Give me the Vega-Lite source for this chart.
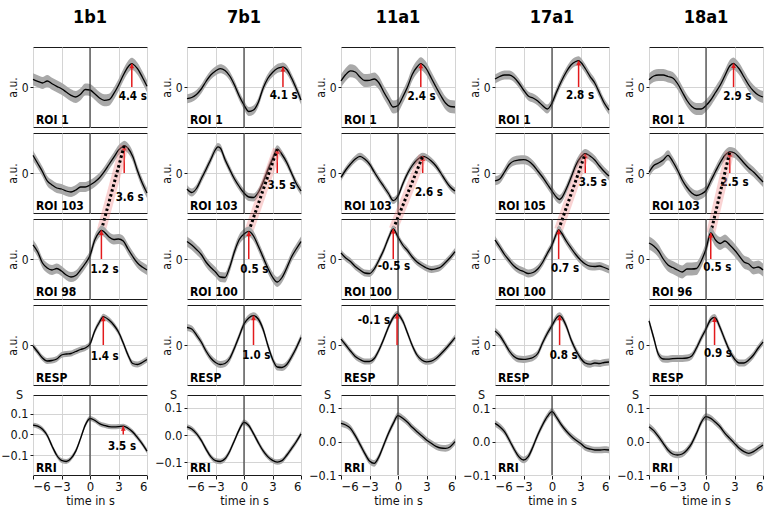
{
"$schema":"https://vega.github.io/schema/vega-lite/v6.json",
"padding":{"left":0,"top":9,"right":0,"bottom":0},
"background":"white",
"config":{"font":"DejaVu Sans Condensed, Liberation Sans Narrow, DejaVu Sans","view":{"stroke":"#1a1a1a","strokeWidth":1},"axis":{"gridColor":"#d4d4d4","gridWidth":1,"domain":false,"tickColor":"#1a1a1a","labelColor":"#111","titleColor":"#111","titleFontWeight":"normal","tickCount":10}},
"datasets":{
"a":[
{"k":"c","c":"1b1","r":1,"t":-6,"y":0.77,"e":0.6},{"k":"c","c":"1b1","r":1,"t":-5.5,"y":0.57,"e":0.6},{"k":"c","c":"1b1","r":1,"t":-5,"y":0.4,"e":0.6},{"k":"c","c":"1b1","r":1,"t":-4.5,"y":0.6,"e":0.6},{"k":"c","c":"1b1","r":1,"t":-4,"y":0.33,"e":0.6},{"k":"c","c":"1b1","r":1,"t":-3.5,"y":0.07,"e":0.6},{"k":"c","c":"1b1","r":1,"t":-3,"y":-0.17,"e":0.6},{"k":"c","c":"1b1","r":1,"t":-2.5,"y":-0.5,"e":0.6},{"k":"c","c":"1b1","r":1,"t":-2,"y":-0.83,"e":0.6},{"k":"c","c":"1b1","r":1,"t":-1.5,"y":-1.0,"e":0.6},{"k":"c","c":"1b1","r":1,"t":-1,"y":-0.73,"e":0.6},{"k":"c","c":"1b1","r":1,"t":-0.5,"y":-0.25,"e":0.6},{"k":"c","c":"1b1","r":1,"t":0,"y":-0.3,"e":0.6},{"k":"c","c":"1b1","r":1,"t":0.5,"y":-0.67,"e":0.6},{"k":"c","c":"1b1","r":1,"t":1,"y":-1.1,"e":0.6},{"k":"c","c":"1b1","r":1,"t":1.5,"y":-1.33,"e":0.6},{"k":"c","c":"1b1","r":1,"t":2,"y":-1.27,"e":0.6},{"k":"c","c":"1b1","r":1,"t":2.5,"y":-0.67,"e":0.6},{"k":"c","c":"1b1","r":1,"t":3,"y":0.17,"e":0.6},{"k":"c","c":"1b1","r":1,"t":3.5,"y":1.17,"e":0.6},{"k":"c","c":"1b1","r":1,"t":4,"y":2.0,"e":0.6},{"k":"c","c":"1b1","r":1,"t":4.4,"y":2.33,"e":0.6},{"k":"c","c":"1b1","r":1,"t":4.5,"y":2.3,"e":0.6},{"k":"c","c":"1b1","r":1,"t":5,"y":1.83,"e":0.6},{"k":"c","c":"1b1","r":1,"t":5.5,"y":1.0,"e":0.6},{"k":"c","c":"1b1","r":1,"t":6,"y":0.07,"e":0.6},
{"k":"c","c":"1b1","r":2,"t":-6,"y":1.76,"e":0.5},{"k":"c","c":"1b1","r":2,"t":-5.5,"y":0.95,"e":0.5},{"k":"c","c":"1b1","r":2,"t":-5,"y":0.13,"e":0.5},{"k":"c","c":"1b1","r":2,"t":-4.5,"y":-0.79,"e":0.5},{"k":"c","c":"1b1","r":2,"t":-4,"y":-1.19,"e":0.5},{"k":"c","c":"1b1","r":2,"t":-3.5,"y":-1.5,"e":0.5},{"k":"c","c":"1b1","r":2,"t":-3,"y":-1.6,"e":0.5},{"k":"c","c":"1b1","r":2,"t":-2.5,"y":-1.8,"e":0.5},{"k":"c","c":"1b1","r":2,"t":-2,"y":-1.9,"e":0.5},{"k":"c","c":"1b1","r":2,"t":-1.5,"y":-1.7,"e":0.5},{"k":"c","c":"1b1","r":2,"t":-1,"y":-1.4,"e":0.5},{"k":"c","c":"1b1","r":2,"t":-0.5,"y":-1.4,"e":0.5},{"k":"c","c":"1b1","r":2,"t":0,"y":-1.2,"e":0.5},{"k":"c","c":"1b1","r":2,"t":0.5,"y":-0.9,"e":0.5},{"k":"c","c":"1b1","r":2,"t":1,"y":-0.48,"e":0.5},{"k":"c","c":"1b1","r":2,"t":1.5,"y":0.13,"e":0.5},{"k":"c","c":"1b1","r":2,"t":2,"y":0.85,"e":0.5},{"k":"c","c":"1b1","r":2,"t":2.5,"y":1.56,"e":0.5},{"k":"c","c":"1b1","r":2,"t":3,"y":2.28,"e":0.5},{"k":"c","c":"1b1","r":2,"t":3.5,"y":2.68,"e":0.5},{"k":"c","c":"1b1","r":2,"t":3.6,"y":2.73,"e":0.5},{"k":"c","c":"1b1","r":2,"t":4,"y":2.48,"e":0.5},{"k":"c","c":"1b1","r":2,"t":4.5,"y":1.66,"e":0.5},{"k":"c","c":"1b1","r":2,"t":5,"y":0.23,"e":0.5},{"k":"c","c":"1b1","r":2,"t":5.5,"y":-1.0,"e":0.5},{"k":"c","c":"1b1","r":2,"t":6,"y":-2.0,"e":0.5},
{"k":"c","c":"1b1","r":3,"t":-6,"y":1.42,"e":0.5},{"k":"c","c":"1b1","r":3,"t":-5.5,"y":0.7,"e":0.5},{"k":"c","c":"1b1","r":3,"t":-5,"y":-0.4,"e":0.5},{"k":"c","c":"1b1","r":3,"t":-4.5,"y":-0.9,"e":0.5},{"k":"c","c":"1b1","r":3,"t":-4,"y":-1.1,"e":0.5},{"k":"c","c":"1b1","r":3,"t":-3.5,"y":-0.95,"e":0.5},{"k":"c","c":"1b1","r":3,"t":-3,"y":-1.2,"e":0.5},{"k":"c","c":"1b1","r":3,"t":-2.5,"y":-1.6,"e":0.5},{"k":"c","c":"1b1","r":3,"t":-2,"y":-1.8,"e":0.5},{"k":"c","c":"1b1","r":3,"t":-1.5,"y":-1.65,"e":0.5},{"k":"c","c":"1b1","r":3,"t":-1,"y":-1.1,"e":0.5},{"k":"c","c":"1b1","r":3,"t":-0.5,"y":-0.45,"e":0.5},{"k":"c","c":"1b1","r":3,"t":0,"y":0.35,"e":0.5},{"k":"c","c":"1b1","r":3,"t":0.5,"y":1.9,"e":0.5},{"k":"c","c":"1b1","r":3,"t":1,"y":2.7,"e":0.5},{"k":"c","c":"1b1","r":3,"t":1.2,"y":2.87,"e":0.5},{"k":"c","c":"1b1","r":3,"t":1.5,"y":2.7,"e":0.5},{"k":"c","c":"1b1","r":3,"t":2,"y":2.2,"e":0.5},{"k":"c","c":"1b1","r":3,"t":2.5,"y":1.95,"e":0.5},{"k":"c","c":"1b1","r":3,"t":3,"y":2.0,"e":0.5},{"k":"c","c":"1b1","r":3,"t":3.5,"y":1.8,"e":0.5},{"k":"c","c":"1b1","r":3,"t":4,"y":1.0,"e":0.5},{"k":"c","c":"1b1","r":3,"t":4.5,"y":0.25,"e":0.5},{"k":"c","c":"1b1","r":3,"t":5,"y":-0.4,"e":0.5},{"k":"c","c":"1b1","r":3,"t":5.5,"y":-0.8,"e":0.5},{"k":"c","c":"1b1","r":3,"t":6,"y":-1.1,"e":0.5},
{"k":"c","c":"1b1","r":4,"t":-6,"y":-0.1,"e":0.3},{"k":"c","c":"1b1","r":4,"t":-5.5,"y":-0.7,"e":0.3},{"k":"c","c":"1b1","r":4,"t":-5,"y":-1.3,"e":0.3},{"k":"c","c":"1b1","r":4,"t":-4.5,"y":-1.6,"e":0.3},{"k":"c","c":"1b1","r":4,"t":-4,"y":-1.55,"e":0.3},{"k":"c","c":"1b1","r":4,"t":-3.5,"y":-1.4,"e":0.3},{"k":"c","c":"1b1","r":4,"t":-3,"y":-1.0,"e":0.3},{"k":"c","c":"1b1","r":4,"t":-2.5,"y":-0.9,"e":0.3},{"k":"c","c":"1b1","r":4,"t":-2,"y":-0.85,"e":0.3},{"k":"c","c":"1b1","r":4,"t":-1.5,"y":-0.65,"e":0.3},{"k":"c","c":"1b1","r":4,"t":-1,"y":-0.45,"e":0.3},{"k":"c","c":"1b1","r":4,"t":-0.5,"y":-0.3,"e":0.3},{"k":"c","c":"1b1","r":4,"t":0,"y":0.1,"e":0.3},{"k":"c","c":"1b1","r":4,"t":0.5,"y":1.4,"e":0.3},{"k":"c","c":"1b1","r":4,"t":1,"y":2.3,"e":0.3},{"k":"c","c":"1b1","r":4,"t":1.4,"y":2.83,"e":0.3},{"k":"c","c":"1b1","r":4,"t":1.5,"y":2.8,"e":0.3},{"k":"c","c":"1b1","r":4,"t":2,"y":2.5,"e":0.3},{"k":"c","c":"1b1","r":4,"t":2.5,"y":2.0,"e":0.3},{"k":"c","c":"1b1","r":4,"t":3,"y":1.3,"e":0.3},{"k":"c","c":"1b1","r":4,"t":3.5,"y":0.2,"e":0.3},{"k":"c","c":"1b1","r":4,"t":4,"y":-1.0,"e":0.3},{"k":"c","c":"1b1","r":4,"t":4.5,"y":-1.85,"e":0.3},{"k":"c","c":"1b1","r":4,"t":5,"y":-1.95,"e":0.3},{"k":"c","c":"1b1","r":4,"t":5.5,"y":-1.75,"e":0.3},{"k":"c","c":"1b1","r":4,"t":6,"y":-1.45,"e":0.3},
{"k":"c","c":"7b1","r":1,"t":-6,"y":-1.17,"e":0.45},{"k":"c","c":"7b1","r":1,"t":-5.5,"y":-1.05,"e":0.45},{"k":"c","c":"7b1","r":1,"t":-5,"y":-0.75,"e":0.45},{"k":"c","c":"7b1","r":1,"t":-4.5,"y":-0.2,"e":0.45},{"k":"c","c":"7b1","r":1,"t":-4,"y":0.55,"e":0.45},{"k":"c","c":"7b1","r":1,"t":-3.5,"y":1.2,"e":0.45},{"k":"c","c":"7b1","r":1,"t":-3,"y":1.6,"e":0.45},{"k":"c","c":"7b1","r":1,"t":-2.5,"y":1.83,"e":0.45},{"k":"c","c":"7b1","r":1,"t":-2,"y":1.65,"e":0.45},{"k":"c","c":"7b1","r":1,"t":-1.5,"y":1.1,"e":0.45},{"k":"c","c":"7b1","r":1,"t":-1,"y":0.2,"e":0.45},{"k":"c","c":"7b1","r":1,"t":-0.5,"y":-0.9,"e":0.45},{"k":"c","c":"7b1","r":1,"t":0,"y":-1.8,"e":0.45},{"k":"c","c":"7b1","r":1,"t":0.5,"y":-2.45,"e":0.45},{"k":"c","c":"7b1","r":1,"t":1,"y":-2.3,"e":0.45},{"k":"c","c":"7b1","r":1,"t":1.5,"y":-1.55,"e":0.45},{"k":"c","c":"7b1","r":1,"t":2,"y":-0.15,"e":0.45},{"k":"c","c":"7b1","r":1,"t":2.5,"y":0.85,"e":0.45},{"k":"c","c":"7b1","r":1,"t":3,"y":1.45,"e":0.45},{"k":"c","c":"7b1","r":1,"t":3.5,"y":1.85,"e":0.45},{"k":"c","c":"7b1","r":1,"t":4,"y":1.98,"e":0.45},{"k":"c","c":"7b1","r":1,"t":4.1,"y":2.0,"e":0.45},{"k":"c","c":"7b1","r":1,"t":4.5,"y":1.75,"e":0.45},{"k":"c","c":"7b1","r":1,"t":5,"y":0.9,"e":0.45},{"k":"c","c":"7b1","r":1,"t":5.5,"y":-0.15,"e":0.45},{"k":"c","c":"7b1","r":1,"t":6,"y":-1.3,"e":0.45},
{"k":"c","c":"7b1","r":2,"t":-6,"y":-1.6,"e":0.4},{"k":"c","c":"7b1","r":2,"t":-5.5,"y":-1.95,"e":0.4},{"k":"c","c":"7b1","r":2,"t":-5,"y":-1.55,"e":0.4},{"k":"c","c":"7b1","r":2,"t":-4.5,"y":-0.6,"e":0.4},{"k":"c","c":"7b1","r":2,"t":-4,"y":0.35,"e":0.4},{"k":"c","c":"7b1","r":2,"t":-3.5,"y":1.35,"e":0.4},{"k":"c","c":"7b1","r":2,"t":-3,"y":2.35,"e":0.4},{"k":"c","c":"7b1","r":2,"t":-2.75,"y":2.61,"e":0.4},{"k":"c","c":"7b1","r":2,"t":-2.5,"y":2.5,"e":0.4},{"k":"c","c":"7b1","r":2,"t":-2,"y":1.35,"e":0.4},{"k":"c","c":"7b1","r":2,"t":-1.5,"y":0.35,"e":0.4},{"k":"c","c":"7b1","r":2,"t":-1,"y":-0.6,"e":0.4},{"k":"c","c":"7b1","r":2,"t":-0.5,"y":-1.35,"e":0.4},{"k":"c","c":"7b1","r":2,"t":0,"y":-2.0,"e":0.4},{"k":"c","c":"7b1","r":2,"t":0.5,"y":-2.4,"e":0.4},{"k":"c","c":"7b1","r":2,"t":1,"y":-2.45,"e":0.4},{"k":"c","c":"7b1","r":2,"t":1.5,"y":-1.95,"e":0.4},{"k":"c","c":"7b1","r":2,"t":2,"y":-0.95,"e":0.4},{"k":"c","c":"7b1","r":2,"t":2.5,"y":0.3,"e":0.4},{"k":"c","c":"7b1","r":2,"t":3,"y":1.4,"e":0.4},{"k":"c","c":"7b1","r":2,"t":3.5,"y":2.38,"e":0.4},{"k":"c","c":"7b1","r":2,"t":4,"y":1.85,"e":0.4},{"k":"c","c":"7b1","r":2,"t":4.5,"y":1.05,"e":0.4},{"k":"c","c":"7b1","r":2,"t":5,"y":0.0,"e":0.4},{"k":"c","c":"7b1","r":2,"t":5.5,"y":-1.05,"e":0.4},{"k":"c","c":"7b1","r":2,"t":6,"y":-1.8,"e":0.4},
{"k":"c","c":"7b1","r":3,"t":-6,"y":1.75,"e":0.5},{"k":"c","c":"7b1","r":3,"t":-5.5,"y":1.4,"e":0.5},{"k":"c","c":"7b1","r":3,"t":-5,"y":0.95,"e":0.5},{"k":"c","c":"7b1","r":3,"t":-4.5,"y":0.45,"e":0.5},{"k":"c","c":"7b1","r":3,"t":-4,"y":-0.3,"e":0.5},{"k":"c","c":"7b1","r":3,"t":-3.5,"y":-0.85,"e":0.5},{"k":"c","c":"7b1","r":3,"t":-3,"y":-1.3,"e":0.5},{"k":"c","c":"7b1","r":3,"t":-2.5,"y":-1.8,"e":0.5},{"k":"c","c":"7b1","r":3,"t":-2,"y":-1.85,"e":0.5},{"k":"c","c":"7b1","r":3,"t":-1.5,"y":-0.8,"e":0.5},{"k":"c","c":"7b1","r":3,"t":-1,"y":0.75,"e":0.5},{"k":"c","c":"7b1","r":3,"t":-0.5,"y":1.95,"e":0.5},{"k":"c","c":"7b1","r":3,"t":0,"y":2.5,"e":0.5},{"k":"c","c":"7b1","r":3,"t":0.5,"y":2.76,"e":0.5},{"k":"c","c":"7b1","r":3,"t":1,"y":2.3,"e":0.5},{"k":"c","c":"7b1","r":3,"t":1.5,"y":1.3,"e":0.5},{"k":"c","c":"7b1","r":3,"t":2,"y":0.2,"e":0.5},{"k":"c","c":"7b1","r":3,"t":2.5,"y":-0.9,"e":0.5},{"k":"c","c":"7b1","r":3,"t":3,"y":-1.8,"e":0.5},{"k":"c","c":"7b1","r":3,"t":3.5,"y":-2.3,"e":0.5},{"k":"c","c":"7b1","r":3,"t":4,"y":-1.85,"e":0.5},{"k":"c","c":"7b1","r":3,"t":4.5,"y":-0.9,"e":0.5},{"k":"c","c":"7b1","r":3,"t":5,"y":0.2,"e":0.5},{"k":"c","c":"7b1","r":3,"t":5.5,"y":1.0,"e":0.5},{"k":"c","c":"7b1","r":3,"t":6,"y":1.75,"e":0.5},
{"k":"c","c":"7b1","r":4,"t":-6,"y":1.75,"e":0.35},{"k":"c","c":"7b1","r":4,"t":-5.5,"y":1.6,"e":0.35},{"k":"c","c":"7b1","r":4,"t":-5,"y":1.0,"e":0.35},{"k":"c","c":"7b1","r":4,"t":-4.5,"y":0.3,"e":0.35},{"k":"c","c":"7b1","r":4,"t":-4,"y":-0.6,"e":0.35},{"k":"c","c":"7b1","r":4,"t":-3.5,"y":-1.3,"e":0.35},{"k":"c","c":"7b1","r":4,"t":-3,"y":-1.75,"e":0.35},{"k":"c","c":"7b1","r":4,"t":-2.5,"y":-1.95,"e":0.35},{"k":"c","c":"7b1","r":4,"t":-2,"y":-1.85,"e":0.35},{"k":"c","c":"7b1","r":4,"t":-1.5,"y":-1.35,"e":0.35},{"k":"c","c":"7b1","r":4,"t":-1,"y":-0.3,"e":0.35},{"k":"c","c":"7b1","r":4,"t":-0.5,"y":0.9,"e":0.35},{"k":"c","c":"7b1","r":4,"t":0,"y":2.1,"e":0.35},{"k":"c","c":"7b1","r":4,"t":0.5,"y":2.7,"e":0.35},{"k":"c","c":"7b1","r":4,"t":1,"y":2.93,"e":0.35},{"k":"c","c":"7b1","r":4,"t":1.5,"y":2.6,"e":0.35},{"k":"c","c":"7b1","r":4,"t":2,"y":1.6,"e":0.35},{"k":"c","c":"7b1","r":4,"t":2.5,"y":0.0,"e":0.35},{"k":"c","c":"7b1","r":4,"t":3,"y":-1.4,"e":0.35},{"k":"c","c":"7b1","r":4,"t":3.5,"y":-2.2,"e":0.35},{"k":"c","c":"7b1","r":4,"t":4,"y":-2.25,"e":0.35},{"k":"c","c":"7b1","r":4,"t":4.5,"y":-1.95,"e":0.35},{"k":"c","c":"7b1","r":4,"t":5,"y":-1.2,"e":0.35},{"k":"c","c":"7b1","r":4,"t":5.5,"y":-0.3,"e":0.35},{"k":"c","c":"7b1","r":4,"t":6,"y":0.74,"e":0.35},
{"k":"c","c":"11a1","r":1,"t":-6,"y":0.6,"e":0.65},{"k":"c","c":"11a1","r":1,"t":-5.5,"y":1.25,"e":0.65},{"k":"c","c":"11a1","r":1,"t":-5,"y":1.62,"e":0.65},{"k":"c","c":"11a1","r":1,"t":-4.5,"y":1.5,"e":0.65},{"k":"c","c":"11a1","r":1,"t":-4,"y":1.0,"e":0.65},{"k":"c","c":"11a1","r":1,"t":-3.5,"y":0.65,"e":0.65},{"k":"c","c":"11a1","r":1,"t":-3,"y":0.67,"e":0.65},{"k":"c","c":"11a1","r":1,"t":-2.5,"y":0.8,"e":0.65},{"k":"c","c":"11a1","r":1,"t":-2,"y":0.4,"e":0.65},{"k":"c","c":"11a1","r":1,"t":-1.5,"y":-0.5,"e":0.65},{"k":"c","c":"11a1","r":1,"t":-1,"y":-1.3,"e":0.65},{"k":"c","c":"11a1","r":1,"t":-0.5,"y":-2.0,"e":0.65},{"k":"c","c":"11a1","r":1,"t":0,"y":-1.85,"e":0.65},{"k":"c","c":"11a1","r":1,"t":0.5,"y":-1.0,"e":0.65},{"k":"c","c":"11a1","r":1,"t":1,"y":0.0,"e":0.65},{"k":"c","c":"11a1","r":1,"t":1.5,"y":1.25,"e":0.65},{"k":"c","c":"11a1","r":1,"t":2,"y":2.0,"e":0.65},{"k":"c","c":"11a1","r":1,"t":2.4,"y":2.33,"e":0.65},{"k":"c","c":"11a1","r":1,"t":2.5,"y":2.3,"e":0.65},{"k":"c","c":"11a1","r":1,"t":3,"y":1.8,"e":0.65},{"k":"c","c":"11a1","r":1,"t":3.5,"y":0.9,"e":0.65},{"k":"c","c":"11a1","r":1,"t":4,"y":0.0,"e":0.65},{"k":"c","c":"11a1","r":1,"t":4.5,"y":-0.85,"e":0.65},{"k":"c","c":"11a1","r":1,"t":5,"y":-1.6,"e":0.65},{"k":"c","c":"11a1","r":1,"t":5.5,"y":-1.95,"e":0.65},{"k":"c","c":"11a1","r":1,"t":6,"y":-2.0,"e":0.65},
{"k":"c","c":"11a1","r":2,"t":-6,"y":-0.44,"e":0.35},{"k":"c","c":"11a1","r":2,"t":-5.5,"y":0.3,"e":0.35},{"k":"c","c":"11a1","r":2,"t":-5,"y":0.9,"e":0.35},{"k":"c","c":"11a1","r":2,"t":-4.5,"y":1.4,"e":0.35},{"k":"c","c":"11a1","r":2,"t":-4,"y":1.67,"e":0.35},{"k":"c","c":"11a1","r":2,"t":-3.5,"y":1.4,"e":0.35},{"k":"c","c":"11a1","r":2,"t":-3,"y":0.9,"e":0.35},{"k":"c","c":"11a1","r":2,"t":-2.5,"y":0.1,"e":0.35},{"k":"c","c":"11a1","r":2,"t":-2,"y":-0.65,"e":0.35},{"k":"c","c":"11a1","r":2,"t":-1.5,"y":-1.35,"e":0.35},{"k":"c","c":"11a1","r":2,"t":-1,"y":-2.05,"e":0.35},{"k":"c","c":"11a1","r":2,"t":-0.5,"y":-2.76,"e":0.35},{"k":"c","c":"11a1","r":2,"t":0,"y":-2.3,"e":0.35},{"k":"c","c":"11a1","r":2,"t":0.5,"y":-1.1,"e":0.35},{"k":"c","c":"11a1","r":2,"t":1,"y":-0.05,"e":0.35},{"k":"c","c":"11a1","r":2,"t":1.5,"y":0.75,"e":0.35},{"k":"c","c":"11a1","r":2,"t":2,"y":1.3,"e":0.35},{"k":"c","c":"11a1","r":2,"t":2.6,"y":1.67,"e":0.35},{"k":"c","c":"11a1","r":2,"t":3,"y":1.55,"e":0.35},{"k":"c","c":"11a1","r":2,"t":3.5,"y":1.2,"e":0.35},{"k":"c","c":"11a1","r":2,"t":4,"y":0.7,"e":0.35},{"k":"c","c":"11a1","r":2,"t":4.5,"y":0.0,"e":0.35},{"k":"c","c":"11a1","r":2,"t":5,"y":-0.75,"e":0.35},{"k":"c","c":"11a1","r":2,"t":5.5,"y":-1.4,"e":0.35},{"k":"c","c":"11a1","r":2,"t":6,"y":-1.8,"e":0.35},
{"k":"c","c":"11a1","r":3,"t":-6,"y":0.6,"e":0.35},{"k":"c","c":"11a1","r":3,"t":-5.5,"y":0.1,"e":0.35},{"k":"c","c":"11a1","r":3,"t":-5,"y":-0.25,"e":0.35},{"k":"c","c":"11a1","r":3,"t":-4.5,"y":-0.75,"e":0.35},{"k":"c","c":"11a1","r":3,"t":-4,"y":-1.1,"e":0.35},{"k":"c","c":"11a1","r":3,"t":-3.5,"y":-1.4,"e":0.35},{"k":"c","c":"11a1","r":3,"t":-3,"y":-1.45,"e":0.35},{"k":"c","c":"11a1","r":3,"t":-2.5,"y":-1.0,"e":0.35},{"k":"c","c":"11a1","r":3,"t":-2,"y":-0.1,"e":0.35},{"k":"c","c":"11a1","r":3,"t":-1.5,"y":0.9,"e":0.35},{"k":"c","c":"11a1","r":3,"t":-1,"y":2.1,"e":0.35},{"k":"c","c":"11a1","r":3,"t":-0.5,"y":3.0,"e":0.35},{"k":"c","c":"11a1","r":3,"t":0,"y":2.2,"e":0.35},{"k":"c","c":"11a1","r":3,"t":0.5,"y":1.4,"e":0.35},{"k":"c","c":"11a1","r":3,"t":1,"y":0.85,"e":0.35},{"k":"c","c":"11a1","r":3,"t":1.5,"y":0.2,"e":0.35},{"k":"c","c":"11a1","r":3,"t":2,"y":-0.3,"e":0.35},{"k":"c","c":"11a1","r":3,"t":2.5,"y":-0.62,"e":0.35},{"k":"c","c":"11a1","r":3,"t":3,"y":-0.9,"e":0.35},{"k":"c","c":"11a1","r":3,"t":3.5,"y":-1.05,"e":0.35},{"k":"c","c":"11a1","r":3,"t":4,"y":-0.98,"e":0.35},{"k":"c","c":"11a1","r":3,"t":4.5,"y":-0.8,"e":0.35},{"k":"c","c":"11a1","r":3,"t":5,"y":-0.35,"e":0.35},{"k":"c","c":"11a1","r":3,"t":5.5,"y":0.15,"e":0.35},{"k":"c","c":"11a1","r":3,"t":6,"y":0.74,"e":0.35},
{"k":"c","c":"11a1","r":4,"t":-6,"y":0.58,"e":0.3},{"k":"c","c":"11a1","r":4,"t":-5.5,"y":0.0,"e":0.3},{"k":"c","c":"11a1","r":4,"t":-5,"y":-0.6,"e":0.3},{"k":"c","c":"11a1","r":4,"t":-4.5,"y":-1.15,"e":0.3},{"k":"c","c":"11a1","r":4,"t":-4,"y":-1.45,"e":0.3},{"k":"c","c":"11a1","r":4,"t":-3.5,"y":-1.65,"e":0.3},{"k":"c","c":"11a1","r":4,"t":-3,"y":-1.65,"e":0.3},{"k":"c","c":"11a1","r":4,"t":-2.5,"y":-1.35,"e":0.3},{"k":"c","c":"11a1","r":4,"t":-2,"y":-0.5,"e":0.3},{"k":"c","c":"11a1","r":4,"t":-1.5,"y":0.6,"e":0.3},{"k":"c","c":"11a1","r":4,"t":-1,"y":1.8,"e":0.3},{"k":"c","c":"11a1","r":4,"t":-0.5,"y":2.75,"e":0.3},{"k":"c","c":"11a1","r":4,"t":-0.1,"y":3.1,"e":0.3},{"k":"c","c":"11a1","r":4,"t":0.5,"y":2.4,"e":0.3},{"k":"c","c":"11a1","r":4,"t":1,"y":1.2,"e":0.3},{"k":"c","c":"11a1","r":4,"t":1.5,"y":-0.05,"e":0.3},{"k":"c","c":"11a1","r":4,"t":2,"y":-1.0,"e":0.3},{"k":"c","c":"11a1","r":4,"t":2.5,"y":-1.5,"e":0.3},{"k":"c","c":"11a1","r":4,"t":3,"y":-1.68,"e":0.3},{"k":"c","c":"11a1","r":4,"t":3.5,"y":-1.62,"e":0.3},{"k":"c","c":"11a1","r":4,"t":4,"y":-1.35,"e":0.3},{"k":"c","c":"11a1","r":4,"t":4.5,"y":-0.9,"e":0.3},{"k":"c","c":"11a1","r":4,"t":5,"y":-0.4,"e":0.3},{"k":"c","c":"11a1","r":4,"t":5.5,"y":0.15,"e":0.3},{"k":"c","c":"11a1","r":4,"t":6,"y":0.74,"e":0.3},
{"k":"c","c":"17a1","r":1,"t":-6,"y":0.8,"e":0.45},{"k":"c","c":"17a1","r":1,"t":-5.5,"y":1.05,"e":0.45},{"k":"c","c":"17a1","r":1,"t":-5,"y":1.2,"e":0.45},{"k":"c","c":"17a1","r":1,"t":-4.5,"y":1.2,"e":0.45},{"k":"c","c":"17a1","r":1,"t":-4,"y":0.95,"e":0.45},{"k":"c","c":"17a1","r":1,"t":-3.5,"y":0.4,"e":0.45},{"k":"c","c":"17a1","r":1,"t":-3,"y":-0.3,"e":0.45},{"k":"c","c":"17a1","r":1,"t":-2.5,"y":-0.9,"e":0.45},{"k":"c","c":"17a1","r":1,"t":-2,"y":-1.1,"e":0.45},{"k":"c","c":"17a1","r":1,"t":-1.5,"y":-1.4,"e":0.45},{"k":"c","c":"17a1","r":1,"t":-1,"y":-1.85,"e":0.45},{"k":"c","c":"17a1","r":1,"t":-0.5,"y":-2.2,"e":0.45},{"k":"c","c":"17a1","r":1,"t":0,"y":-1.6,"e":0.45},{"k":"c","c":"17a1","r":1,"t":0.5,"y":-0.45,"e":0.45},{"k":"c","c":"17a1","r":1,"t":1,"y":0.6,"e":0.45},{"k":"c","c":"17a1","r":1,"t":1.5,"y":1.5,"e":0.45},{"k":"c","c":"17a1","r":1,"t":2,"y":2.2,"e":0.45},{"k":"c","c":"17a1","r":1,"t":2.5,"y":2.55,"e":0.45},{"k":"c","c":"17a1","r":1,"t":2.8,"y":2.63,"e":0.45},{"k":"c","c":"17a1","r":1,"t":3,"y":2.5,"e":0.45},{"k":"c","c":"17a1","r":1,"t":3.5,"y":1.85,"e":0.45},{"k":"c","c":"17a1","r":1,"t":4,"y":1.07,"e":0.45},{"k":"c","c":"17a1","r":1,"t":4.5,"y":0.4,"e":0.45},{"k":"c","c":"17a1","r":1,"t":5,"y":-0.6,"e":0.45},{"k":"c","c":"17a1","r":1,"t":5.5,"y":-1.6,"e":0.45},{"k":"c","c":"17a1","r":1,"t":6,"y":-2.3,"e":0.45},
{"k":"c","c":"17a1","r":2,"t":-6,"y":-0.78,"e":0.45},{"k":"c","c":"17a1","r":2,"t":-5.5,"y":-0.6,"e":0.45},{"k":"c","c":"17a1","r":2,"t":-5,"y":0.1,"e":0.45},{"k":"c","c":"17a1","r":2,"t":-4.5,"y":0.85,"e":0.45},{"k":"c","c":"17a1","r":2,"t":-4,"y":1.2,"e":0.45},{"k":"c","c":"17a1","r":2,"t":-3.5,"y":1.3,"e":0.45},{"k":"c","c":"17a1","r":2,"t":-3,"y":1.33,"e":0.45},{"k":"c","c":"17a1","r":2,"t":-2.5,"y":1.2,"e":0.45},{"k":"c","c":"17a1","r":2,"t":-2,"y":0.8,"e":0.45},{"k":"c","c":"17a1","r":2,"t":-1.5,"y":0.2,"e":0.45},{"k":"c","c":"17a1","r":2,"t":-1,"y":-0.4,"e":0.45},{"k":"c","c":"17a1","r":2,"t":-0.5,"y":-1.1,"e":0.45},{"k":"c","c":"17a1","r":2,"t":0,"y":-1.8,"e":0.45},{"k":"c","c":"17a1","r":2,"t":0.5,"y":-2.45,"e":0.45},{"k":"c","c":"17a1","r":2,"t":0.8,"y":-2.65,"e":0.45},{"k":"c","c":"17a1","r":2,"t":1,"y":-2.5,"e":0.45},{"k":"c","c":"17a1","r":2,"t":1.5,"y":-1.6,"e":0.45},{"k":"c","c":"17a1","r":2,"t":2,"y":-0.45,"e":0.45},{"k":"c","c":"17a1","r":2,"t":2.5,"y":0.75,"e":0.45},{"k":"c","c":"17a1","r":2,"t":3,"y":1.55,"e":0.45},{"k":"c","c":"17a1","r":2,"t":3.5,"y":1.94,"e":0.45},{"k":"c","c":"17a1","r":2,"t":4,"y":1.7,"e":0.45},{"k":"c","c":"17a1","r":2,"t":4.5,"y":1.3,"e":0.45},{"k":"c","c":"17a1","r":2,"t":5,"y":0.7,"e":0.45},{"k":"c","c":"17a1","r":2,"t":5.5,"y":0.15,"e":0.45},{"k":"c","c":"17a1","r":2,"t":6,"y":-0.3,"e":0.45},
{"k":"c","c":"17a1","r":3,"t":-6,"y":1.9,"e":0.4},{"k":"c","c":"17a1","r":3,"t":-5.5,"y":1.2,"e":0.4},{"k":"c","c":"17a1","r":3,"t":-5,"y":0.45,"e":0.4},{"k":"c","c":"17a1","r":3,"t":-4.5,"y":-0.15,"e":0.4},{"k":"c","c":"17a1","r":3,"t":-4,"y":-0.7,"e":0.4},{"k":"c","c":"17a1","r":3,"t":-3.5,"y":-1.05,"e":0.4},{"k":"c","c":"17a1","r":3,"t":-3,"y":-1.25,"e":0.4},{"k":"c","c":"17a1","r":3,"t":-2.5,"y":-1.45,"e":0.4},{"k":"c","c":"17a1","r":3,"t":-2,"y":-1.35,"e":0.4},{"k":"c","c":"17a1","r":3,"t":-1.5,"y":-1.0,"e":0.4},{"k":"c","c":"17a1","r":3,"t":-1,"y":-0.35,"e":0.4},{"k":"c","c":"17a1","r":3,"t":-0.5,"y":0.55,"e":0.4},{"k":"c","c":"17a1","r":3,"t":0,"y":1.4,"e":0.4},{"k":"c","c":"17a1","r":3,"t":0.5,"y":2.6,"e":0.4},{"k":"c","c":"17a1","r":3,"t":0.7,"y":2.94,"e":0.4},{"k":"c","c":"17a1","r":3,"t":1,"y":2.6,"e":0.4},{"k":"c","c":"17a1","r":3,"t":1.5,"y":1.8,"e":0.4},{"k":"c","c":"17a1","r":3,"t":2,"y":1.1,"e":0.4},{"k":"c","c":"17a1","r":3,"t":2.5,"y":0.45,"e":0.4},{"k":"c","c":"17a1","r":3,"t":3,"y":-0.1,"e":0.4},{"k":"c","c":"17a1","r":3,"t":3.5,"y":-0.5,"e":0.4},{"k":"c","c":"17a1","r":3,"t":4,"y":-0.72,"e":0.4},{"k":"c","c":"17a1","r":3,"t":4.5,"y":-0.75,"e":0.4},{"k":"c","c":"17a1","r":3,"t":5,"y":-0.7,"e":0.4},{"k":"c","c":"17a1","r":3,"t":5.5,"y":-0.85,"e":0.4},{"k":"c","c":"17a1","r":3,"t":6,"y":-1.05,"e":0.4},
{"k":"c","c":"17a1","r":4,"t":-6,"y":1.41,"e":0.35},{"k":"c","c":"17a1","r":4,"t":-5.5,"y":0.95,"e":0.35},{"k":"c","c":"17a1","r":4,"t":-5,"y":0.2,"e":0.35},{"k":"c","c":"17a1","r":4,"t":-4.5,"y":-0.6,"e":0.35},{"k":"c","c":"17a1","r":4,"t":-4,"y":-1.15,"e":0.35},{"k":"c","c":"17a1","r":4,"t":-3.5,"y":-1.4,"e":0.35},{"k":"c","c":"17a1","r":4,"t":-3,"y":-1.44,"e":0.35},{"k":"c","c":"17a1","r":4,"t":-2.5,"y":-1.38,"e":0.35},{"k":"c","c":"17a1","r":4,"t":-2,"y":-1.25,"e":0.35},{"k":"c","c":"17a1","r":4,"t":-1.5,"y":-0.85,"e":0.35},{"k":"c","c":"17a1","r":4,"t":-1,"y":0.2,"e":0.35},{"k":"c","c":"17a1","r":4,"t":-0.5,"y":1.15,"e":0.35},{"k":"c","c":"17a1","r":4,"t":0,"y":1.95,"e":0.35},{"k":"c","c":"17a1","r":4,"t":0.5,"y":2.75,"e":0.35},{"k":"c","c":"17a1","r":4,"t":0.8,"y":2.93,"e":0.35},{"k":"c","c":"17a1","r":4,"t":1,"y":2.8,"e":0.35},{"k":"c","c":"17a1","r":4,"t":1.5,"y":1.9,"e":0.35},{"k":"c","c":"17a1","r":4,"t":2,"y":0.55,"e":0.35},{"k":"c","c":"17a1","r":4,"t":2.5,"y":-0.5,"e":0.35},{"k":"c","c":"17a1","r":4,"t":3,"y":-1.3,"e":0.35},{"k":"c","c":"17a1","r":4,"t":3.5,"y":-1.8,"e":0.35},{"k":"c","c":"17a1","r":4,"t":4,"y":-1.92,"e":0.35},{"k":"c","c":"17a1","r":4,"t":4.5,"y":-1.8,"e":0.35},{"k":"c","c":"17a1","r":4,"t":5,"y":-1.85,"e":0.35},{"k":"c","c":"17a1","r":4,"t":5.5,"y":-1.75,"e":0.35},{"k":"c","c":"17a1","r":4,"t":6,"y":-1.7,"e":0.35},
{"k":"c","c":"18a1","r":1,"t":-6,"y":0.73,"e":0.6},{"k":"c","c":"18a1","r":1,"t":-5.5,"y":1.1,"e":0.6},{"k":"c","c":"18a1","r":1,"t":-5,"y":1.2,"e":0.6},{"k":"c","c":"18a1","r":1,"t":-4.5,"y":1.2,"e":0.6},{"k":"c","c":"18a1","r":1,"t":-4,"y":1.05,"e":0.6},{"k":"c","c":"18a1","r":1,"t":-3.5,"y":0.9,"e":0.6},{"k":"c","c":"18a1","r":1,"t":-3,"y":0.35,"e":0.6},{"k":"c","c":"18a1","r":1,"t":-2.5,"y":-0.5,"e":0.6},{"k":"c","c":"18a1","r":1,"t":-2,"y":-1.35,"e":0.6},{"k":"c","c":"18a1","r":1,"t":-1.5,"y":-1.95,"e":0.6},{"k":"c","c":"18a1","r":1,"t":-1,"y":-2.2,"e":0.6},{"k":"c","c":"18a1","r":1,"t":-0.5,"y":-2.2,"e":0.6},{"k":"c","c":"18a1","r":1,"t":0,"y":-1.85,"e":0.6},{"k":"c","c":"18a1","r":1,"t":0.5,"y":-1.3,"e":0.6},{"k":"c","c":"18a1","r":1,"t":1,"y":-0.55,"e":0.6},{"k":"c","c":"18a1","r":1,"t":1.5,"y":0.2,"e":0.6},{"k":"c","c":"18a1","r":1,"t":2,"y":1.15,"e":0.6},{"k":"c","c":"18a1","r":1,"t":2.5,"y":2.1,"e":0.6},{"k":"c","c":"18a1","r":1,"t":2.9,"y":2.35,"e":0.6},{"k":"c","c":"18a1","r":1,"t":3,"y":2.3,"e":0.6},{"k":"c","c":"18a1","r":1,"t":3.5,"y":1.8,"e":0.6},{"k":"c","c":"18a1","r":1,"t":4,"y":1.0,"e":0.6},{"k":"c","c":"18a1","r":1,"t":4.5,"y":0.2,"e":0.6},{"k":"c","c":"18a1","r":1,"t":5,"y":-0.4,"e":0.6},{"k":"c","c":"18a1","r":1,"t":5.5,"y":-0.8,"e":0.6},{"k":"c","c":"18a1","r":1,"t":6,"y":-1.0,"e":0.6},
{"k":"c","c":"18a1","r":2,"t":-6,"y":0.07,"e":0.5},{"k":"c","c":"18a1","r":2,"t":-5.5,"y":0.75,"e":0.5},{"k":"c","c":"18a1","r":2,"t":-5,"y":1.0,"e":0.5},{"k":"c","c":"18a1","r":2,"t":-4.5,"y":1.3,"e":0.5},{"k":"c","c":"18a1","r":2,"t":-4,"y":1.77,"e":0.5},{"k":"c","c":"18a1","r":2,"t":-3.5,"y":1.15,"e":0.5},{"k":"c","c":"18a1","r":2,"t":-3,"y":0.3,"e":0.5},{"k":"c","c":"18a1","r":2,"t":-2.5,"y":-0.7,"e":0.5},{"k":"c","c":"18a1","r":2,"t":-2,"y":-1.45,"e":0.5},{"k":"c","c":"18a1","r":2,"t":-1.5,"y":-2.0,"e":0.5},{"k":"c","c":"18a1","r":2,"t":-1,"y":-2.25,"e":0.5},{"k":"c","c":"18a1","r":2,"t":-0.5,"y":-2.1,"e":0.5},{"k":"c","c":"18a1","r":2,"t":0,"y":-1.75,"e":0.5},{"k":"c","c":"18a1","r":2,"t":0.5,"y":-0.8,"e":0.5},{"k":"c","c":"18a1","r":2,"t":1,"y":0.15,"e":0.5},{"k":"c","c":"18a1","r":2,"t":1.5,"y":1.05,"e":0.5},{"k":"c","c":"18a1","r":2,"t":2,"y":1.77,"e":0.5},{"k":"c","c":"18a1","r":2,"t":2.5,"y":2.11,"e":0.5},{"k":"c","c":"18a1","r":2,"t":3,"y":2.0,"e":0.5},{"k":"c","c":"18a1","r":2,"t":3.5,"y":1.55,"e":0.5},{"k":"c","c":"18a1","r":2,"t":4,"y":1.0,"e":0.5},{"k":"c","c":"18a1","r":2,"t":4.5,"y":0.5,"e":0.5},{"k":"c","c":"18a1","r":2,"t":5,"y":0.1,"e":0.5},{"k":"c","c":"18a1","r":2,"t":5.5,"y":-0.4,"e":0.5},{"k":"c","c":"18a1","r":2,"t":6,"y":-0.9,"e":0.5},
{"k":"c","c":"18a1","r":3,"t":-6,"y":1.6,"e":0.65},{"k":"c","c":"18a1","r":3,"t":-5.5,"y":1.3,"e":0.65},{"k":"c","c":"18a1","r":3,"t":-5,"y":0.8,"e":0.65},{"k":"c","c":"18a1","r":3,"t":-4.5,"y":0.0,"e":0.65},{"k":"c","c":"18a1","r":3,"t":-4,"y":-0.6,"e":0.65},{"k":"c","c":"18a1","r":3,"t":-3.5,"y":-0.85,"e":0.65},{"k":"c","c":"18a1","r":3,"t":-3,"y":-1.1,"e":0.65},{"k":"c","c":"18a1","r":3,"t":-2.5,"y":-1.3,"e":0.65},{"k":"c","c":"18a1","r":3,"t":-2,"y":-1.0,"e":0.65},{"k":"c","c":"18a1","r":3,"t":-1.5,"y":-1.0,"e":0.65},{"k":"c","c":"18a1","r":3,"t":-1,"y":-0.95,"e":0.65},{"k":"c","c":"18a1","r":3,"t":-0.5,"y":-0.2,"e":0.65},{"k":"c","c":"18a1","r":3,"t":0,"y":1.0,"e":0.65},{"k":"c","c":"18a1","r":3,"t":0.5,"y":2.6,"e":0.65},{"k":"c","c":"18a1","r":3,"t":1,"y":1.9,"e":0.65},{"k":"c","c":"18a1","r":3,"t":1.5,"y":1.55,"e":0.65},{"k":"c","c":"18a1","r":3,"t":2,"y":1.8,"e":0.65},{"k":"c","c":"18a1","r":3,"t":2.5,"y":1.4,"e":0.65},{"k":"c","c":"18a1","r":3,"t":3,"y":0.9,"e":0.65},{"k":"c","c":"18a1","r":3,"t":3.5,"y":0.3,"e":0.65},{"k":"c","c":"18a1","r":3,"t":4,"y":-0.3,"e":0.65},{"k":"c","c":"18a1","r":3,"t":4.5,"y":-0.5,"e":0.65},{"k":"c","c":"18a1","r":3,"t":5,"y":-0.9,"e":0.65},{"k":"c","c":"18a1","r":3,"t":5.5,"y":-0.8,"e":0.65},{"k":"c","c":"18a1","r":3,"t":6,"y":-1.1,"e":0.65},
{"k":"c","c":"18a1","r":4,"t":-6,"y":2.42,"e":0.35},{"k":"c","c":"18a1","r":4,"t":-5.5,"y":0.7,"e":0.35},{"k":"c","c":"18a1","r":4,"t":-5,"y":-0.95,"e":0.35},{"k":"c","c":"18a1","r":4,"t":-4.5,"y":-1.4,"e":0.35},{"k":"c","c":"18a1","r":4,"t":-4,"y":-1.42,"e":0.35},{"k":"c","c":"18a1","r":4,"t":-3.5,"y":-1.36,"e":0.35},{"k":"c","c":"18a1","r":4,"t":-3,"y":-1.34,"e":0.35},{"k":"c","c":"18a1","r":4,"t":-2.5,"y":-1.34,"e":0.35},{"k":"c","c":"18a1","r":4,"t":-2,"y":-1.3,"e":0.35},{"k":"c","c":"18a1","r":4,"t":-1.5,"y":-1.1,"e":0.35},{"k":"c","c":"18a1","r":4,"t":-1,"y":-0.3,"e":0.35},{"k":"c","c":"18a1","r":4,"t":-0.5,"y":0.7,"e":0.35},{"k":"c","c":"18a1","r":4,"t":0,"y":1.6,"e":0.35},{"k":"c","c":"18a1","r":4,"t":0.5,"y":2.55,"e":0.35},{"k":"c","c":"18a1","r":4,"t":0.9,"y":2.76,"e":0.35},{"k":"c","c":"18a1","r":4,"t":1,"y":2.7,"e":0.35},{"k":"c","c":"18a1","r":4,"t":1.5,"y":1.7,"e":0.35},{"k":"c","c":"18a1","r":4,"t":2,"y":0.5,"e":0.35},{"k":"c","c":"18a1","r":4,"t":2.5,"y":-0.6,"e":0.35},{"k":"c","c":"18a1","r":4,"t":3,"y":-1.4,"e":0.35},{"k":"c","c":"18a1","r":4,"t":3.5,"y":-1.8,"e":0.35},{"k":"c","c":"18a1","r":4,"t":4,"y":-1.8,"e":0.35},{"k":"c","c":"18a1","r":4,"t":4.5,"y":-1.5,"e":0.35},{"k":"c","c":"18a1","r":4,"t":5,"y":-1.0,"e":0.35},{"k":"c","c":"18a1","r":4,"t":5.5,"y":-0.3,"e":0.35},{"k":"c","c":"18a1","r":4,"t":6,"y":0.3,"e":0.35},
{"k":"f","c":"1b1","r":1,"lo":-4,"hi":4,"name":"ROI 1"},{"k":"f","c":"1b1","r":2,"lo":-4,"hi":4,"name":"ROI 103"},{"k":"f","c":"1b1","r":3,"lo":-4,"hi":4,"name":"ROI 98"},{"k":"f","c":"1b1","r":4,"lo":-4,"hi":4,"name":"RESP"},
{"k":"f","c":"7b1","r":1,"lo":-4,"hi":4,"name":"ROI 1"},{"k":"f","c":"7b1","r":2,"lo":-4,"hi":4,"name":"ROI 103"},{"k":"f","c":"7b1","r":3,"lo":-4,"hi":4,"name":"ROI 100"},{"k":"f","c":"7b1","r":4,"lo":-4,"hi":4,"name":"RESP"},
{"k":"f","c":"11a1","r":1,"lo":-4,"hi":4,"name":"ROI 1"},{"k":"f","c":"11a1","r":2,"lo":-4,"hi":4,"name":"ROI 103"},{"k":"f","c":"11a1","r":3,"lo":-4,"hi":4,"name":"ROI 100"},{"k":"f","c":"11a1","r":4,"lo":-4,"hi":4,"name":"RESP"},
{"k":"f","c":"17a1","r":1,"lo":-4,"hi":4,"name":"ROI 1"},{"k":"f","c":"17a1","r":2,"lo":-4,"hi":4,"name":"ROI 105"},{"k":"f","c":"17a1","r":3,"lo":-4,"hi":4,"name":"ROI 100"},{"k":"f","c":"17a1","r":4,"lo":-4,"hi":4,"name":"RESP"},
{"k":"f","c":"18a1","r":1,"lo":-4,"hi":4,"name":"ROI 1"},{"k":"f","c":"18a1","r":2,"lo":-4,"hi":4,"name":"ROI 103"},{"k":"f","c":"18a1","r":3,"lo":-4,"hi":4,"name":"ROI 96"},{"k":"f","c":"18a1","r":4,"lo":-4,"hi":4,"name":"RESP"},
{"k":"p","c":"1b1","r":1,"tp":4.4,"yp":2.33,"lab":"4.4 s","lx":4.5,"ly":-1.0},{"k":"p","c":"1b1","r":2,"tp":3.6,"yp":2.73,"lab":"3.6 s","lx":4.18,"ly":-2.49},{"k":"p","c":"1b1","r":3,"tp":1.2,"yp":2.87,"lab":"1.2 s","lx":1.54,"ly":-1.11},{"k":"p","c":"1b1","r":4,"tp":1.4,"yp":2.83,"lab":"1.4 s","lx":1.55,"ly":-1.21},
{"k":"p","c":"7b1","r":1,"tp":4.1,"yp":2.0,"lab":"4.1 s","lx":4.18,"ly":-0.9},{"k":"p","c":"7b1","r":2,"tp":3.5,"yp":2.38,"lab":"3.5 s","lx":3.96,"ly":-1.3},{"k":"p","c":"7b1","r":3,"tp":0.5,"yp":2.76,"lab":"0.5 s","lx":1.09,"ly":-1.11},{"k":"p","c":"7b1","r":4,"tp":1.0,"yp":2.93,"lab":"1.0 s","lx":1.3,"ly":-1.11},
{"k":"p","c":"11a1","r":1,"tp":2.4,"yp":2.33,"lab":"2.4 s","lx":2.49,"ly":-1.0},{"k":"p","c":"11a1","r":2,"tp":2.6,"yp":1.67,"lab":"2.6 s","lx":3.26,"ly":-1.97},{"k":"p","c":"11a1","r":3,"tp":-0.5,"yp":3.0,"lab":"-0.5 s","lx":-0.42,"ly":-0.78},{"k":"p","c":"11a1","r":4,"tp":-0.1,"yp":3.1,"lab":"-0.1 s","lx":-2.53,"ly":2.42},
{"k":"p","c":"17a1","r":1,"tp":2.8,"yp":2.63,"lab":"2.8 s","lx":2.95,"ly":-0.93},{"k":"p","c":"17a1","r":2,"tp":3.5,"yp":1.94,"lab":"3.5 s","lx":4.3,"ly":-1.0},{"k":"p","c":"17a1","r":3,"tp":0.7,"yp":2.94,"lab":"0.7 s","lx":1.37,"ly":-1.04},{"k":"p","c":"17a1","r":4,"tp":0.8,"yp":2.93,"lab":"0.8 s","lx":1.23,"ly":-1.11},
{"k":"p","c":"18a1","r":1,"tp":2.9,"yp":2.35,"lab":"2.9 s","lx":3.3,"ly":-1.0},{"k":"p","c":"18a1","r":2,"tp":2.5,"yp":2.11,"lab":"2.5 s","lx":3.0,"ly":-1.0},{"k":"p","c":"18a1","r":3,"tp":0.5,"yp":2.6,"lab":"0.5 s","lx":1.2,"ly":-0.94},{"k":"p","c":"18a1","r":4,"tp":0.9,"yp":2.76,"lab":"0.9 s","lx":1.26,"ly":-0.94},
{"k":"n","c":"1b1","r":2,"t":3.6,"f":0.841},{"k":"n","c":"1b1","r":2,"t":1.2,"f":-0.216},
{"k":"n","c":"7b1","r":2,"t":3.5,"f":0.7975},{"k":"n","c":"7b1","r":2,"t":0.5,"f":-0.23},
{"k":"n","c":"11a1","r":2,"t":2.6,"f":0.709},{"k":"n","c":"11a1","r":2,"t":-0.5,"f":-0.2},
{"k":"n","c":"17a1","r":2,"t":3.5,"f":0.7425},{"k":"n","c":"17a1","r":2,"t":0.7,"f":-0.2075},
{"k":"n","c":"18a1","r":2,"t":2.5,"f":0.764},{"k":"n","c":"18a1","r":2,"t":0.5,"f":-0.25}
],
"b":[
{"k":"c","c":"1b1","t":-6,"y":0.045,"e":0.012},{"k":"c","c":"1b1","t":-5.5,"y":0.04,"e":0.012},{"k":"c","c":"1b1","t":-5,"y":0.025,"e":0.012},{"k":"c","c":"1b1","t":-4.5,"y":-0.005,"e":0.012},{"k":"c","c":"1b1","t":-4,"y":-0.055,"e":0.012},{"k":"c","c":"1b1","t":-3.5,"y":-0.1,"e":0.012},{"k":"c","c":"1b1","t":-3,"y":-0.125,"e":0.012},{"k":"c","c":"1b1","t":-2.5,"y":-0.13,"e":0.012},{"k":"c","c":"1b1","t":-2,"y":-0.115,"e":0.012},{"k":"c","c":"1b1","t":-1.5,"y":-0.08,"e":0.012},{"k":"c","c":"1b1","t":-1,"y":-0.02,"e":0.012},{"k":"c","c":"1b1","t":-0.5,"y":0.045,"e":0.012},{"k":"c","c":"1b1","t":0,"y":0.077,"e":0.012},{"k":"c","c":"1b1","t":0.5,"y":0.068,"e":0.012},{"k":"c","c":"1b1","t":1,"y":0.052,"e":0.012},{"k":"c","c":"1b1","t":1.5,"y":0.044,"e":0.012},{"k":"c","c":"1b1","t":2,"y":0.038,"e":0.012},{"k":"c","c":"1b1","t":2.5,"y":0.037,"e":0.012},{"k":"c","c":"1b1","t":3,"y":0.038,"e":0.012},{"k":"c","c":"1b1","t":3.5,"y":0.04,"e":0.012},{"k":"c","c":"1b1","t":4,"y":0.03,"e":0.012},{"k":"c","c":"1b1","t":4.5,"y":0.012,"e":0.012},{"k":"c","c":"1b1","t":5,"y":-0.015,"e":0.012},{"k":"c","c":"1b1","t":5.5,"y":-0.045,"e":0.012},{"k":"c","c":"1b1","t":6,"y":-0.08,"e":0.012},
{"k":"c","c":"7b1","t":-6,"y":0.03,"e":0.01},{"k":"c","c":"7b1","t":-5.5,"y":0.022,"e":0.01},{"k":"c","c":"7b1","t":-5,"y":0.005,"e":0.01},{"k":"c","c":"7b1","t":-4.5,"y":-0.02,"e":0.01},{"k":"c","c":"7b1","t":-4,"y":-0.052,"e":0.01},{"k":"c","c":"7b1","t":-3.5,"y":-0.08,"e":0.01},{"k":"c","c":"7b1","t":-3,"y":-0.095,"e":0.01},{"k":"c","c":"7b1","t":-2.5,"y":-0.098,"e":0.01},{"k":"c","c":"7b1","t":-2,"y":-0.088,"e":0.01},{"k":"c","c":"7b1","t":-1.5,"y":-0.06,"e":0.01},{"k":"c","c":"7b1","t":-1,"y":-0.02,"e":0.01},{"k":"c","c":"7b1","t":-0.5,"y":0.02,"e":0.01},{"k":"c","c":"7b1","t":0,"y":0.047,"e":0.01},{"k":"c","c":"7b1","t":0.5,"y":0.035,"e":0.01},{"k":"c","c":"7b1","t":1,"y":0.005,"e":0.01},{"k":"c","c":"7b1","t":1.5,"y":-0.028,"e":0.01},{"k":"c","c":"7b1","t":2,"y":-0.058,"e":0.01},{"k":"c","c":"7b1","t":2.5,"y":-0.08,"e":0.01},{"k":"c","c":"7b1","t":3,"y":-0.094,"e":0.01},{"k":"c","c":"7b1","t":3.5,"y":-0.1,"e":0.01},{"k":"c","c":"7b1","t":4,"y":-0.095,"e":0.01},{"k":"c","c":"7b1","t":4.5,"y":-0.075,"e":0.01},{"k":"c","c":"7b1","t":5,"y":-0.05,"e":0.01},{"k":"c","c":"7b1","t":5.5,"y":-0.025,"e":0.01},{"k":"c","c":"7b1","t":6,"y":0.004,"e":0.01},
{"k":"c","c":"11a1","t":-6,"y":0.055,"e":0.01},{"k":"c","c":"11a1","t":-5.5,"y":0.05,"e":0.01},{"k":"c","c":"11a1","t":-5,"y":0.04,"e":0.01},{"k":"c","c":"11a1","t":-4.5,"y":0.018,"e":0.01},{"k":"c","c":"11a1","t":-4,"y":-0.008,"e":0.01},{"k":"c","c":"11a1","t":-3.5,"y":-0.035,"e":0.01},{"k":"c","c":"11a1","t":-3,"y":-0.058,"e":0.01},{"k":"c","c":"11a1","t":-2.5,"y":-0.065,"e":0.01},{"k":"c","c":"11a1","t":-2,"y":-0.045,"e":0.01},{"k":"c","c":"11a1","t":-1.5,"y":-0.01,"e":0.01},{"k":"c","c":"11a1","t":-1,"y":0.025,"e":0.01},{"k":"c","c":"11a1","t":-0.5,"y":0.055,"e":0.01},{"k":"c","c":"11a1","t":0,"y":0.078,"e":0.01},{"k":"c","c":"11a1","t":0.5,"y":0.07,"e":0.01},{"k":"c","c":"11a1","t":1,"y":0.058,"e":0.01},{"k":"c","c":"11a1","t":1.5,"y":0.043,"e":0.01},{"k":"c","c":"11a1","t":2,"y":0.03,"e":0.01},{"k":"c","c":"11a1","t":2.5,"y":0.018,"e":0.01},{"k":"c","c":"11a1","t":3,"y":0.005,"e":0.01},{"k":"c","c":"11a1","t":3.5,"y":-0.005,"e":0.01},{"k":"c","c":"11a1","t":4,"y":-0.014,"e":0.01},{"k":"c","c":"11a1","t":4.5,"y":-0.019,"e":0.01},{"k":"c","c":"11a1","t":5,"y":-0.02,"e":0.01},{"k":"c","c":"11a1","t":5.5,"y":-0.015,"e":0.01},{"k":"c","c":"11a1","t":6,"y":0.0,"e":0.01},
{"k":"c","c":"17a1","t":-6,"y":0.055,"e":0.01},{"k":"c","c":"17a1","t":-5.5,"y":0.045,"e":0.01},{"k":"c","c":"17a1","t":-5,"y":0.03,"e":0.01},{"k":"c","c":"17a1","t":-4.5,"y":0.005,"e":0.01},{"k":"c","c":"17a1","t":-4,"y":-0.022,"e":0.01},{"k":"c","c":"17a1","t":-3.5,"y":-0.045,"e":0.01},{"k":"c","c":"17a1","t":-3,"y":-0.055,"e":0.01},{"k":"c","c":"17a1","t":-2.5,"y":-0.045,"e":0.01},{"k":"c","c":"17a1","t":-2,"y":-0.015,"e":0.01},{"k":"c","c":"17a1","t":-1.5,"y":0.02,"e":0.01},{"k":"c","c":"17a1","t":-1,"y":0.05,"e":0.01},{"k":"c","c":"17a1","t":-0.5,"y":0.075,"e":0.01},{"k":"c","c":"17a1","t":0,"y":0.09,"e":0.01},{"k":"c","c":"17a1","t":0.5,"y":0.072,"e":0.01},{"k":"c","c":"17a1","t":1,"y":0.05,"e":0.01},{"k":"c","c":"17a1","t":1.5,"y":0.032,"e":0.01},{"k":"c","c":"17a1","t":2,"y":0.017,"e":0.01},{"k":"c","c":"17a1","t":2.5,"y":0.005,"e":0.01},{"k":"c","c":"17a1","t":3,"y":-0.005,"e":0.01},{"k":"c","c":"17a1","t":3.5,"y":-0.017,"e":0.01},{"k":"c","c":"17a1","t":4,"y":-0.022,"e":0.01},{"k":"c","c":"17a1","t":4.5,"y":-0.025,"e":0.01},{"k":"c","c":"17a1","t":5,"y":-0.025,"e":0.01},{"k":"c","c":"17a1","t":5.5,"y":-0.024,"e":0.01},{"k":"c","c":"17a1","t":6,"y":-0.025,"e":0.01},
{"k":"c","c":"18a1","t":-6,"y":0.045,"e":0.01},{"k":"c","c":"18a1","t":-5.5,"y":0.033,"e":0.01},{"k":"c","c":"18a1","t":-5,"y":0.015,"e":0.01},{"k":"c","c":"18a1","t":-4.5,"y":-0.005,"e":0.01},{"k":"c","c":"18a1","t":-4,"y":-0.025,"e":0.01},{"k":"c","c":"18a1","t":-3.5,"y":-0.037,"e":0.01},{"k":"c","c":"18a1","t":-3,"y":-0.04,"e":0.01},{"k":"c","c":"18a1","t":-2.5,"y":-0.037,"e":0.01},{"k":"c","c":"18a1","t":-2,"y":-0.025,"e":0.01},{"k":"c","c":"18a1","t":-1.5,"y":-0.005,"e":0.01},{"k":"c","c":"18a1","t":-1,"y":0.025,"e":0.01},{"k":"c","c":"18a1","t":-0.5,"y":0.058,"e":0.01},{"k":"c","c":"18a1","t":0,"y":0.075,"e":0.01},{"k":"c","c":"18a1","t":0.5,"y":0.07,"e":0.01},{"k":"c","c":"18a1","t":1,"y":0.058,"e":0.01},{"k":"c","c":"18a1","t":1.5,"y":0.044,"e":0.01},{"k":"c","c":"18a1","t":2,"y":0.025,"e":0.01},{"k":"c","c":"18a1","t":2.5,"y":0.01,"e":0.01},{"k":"c","c":"18a1","t":3,"y":-0.005,"e":0.01},{"k":"c","c":"18a1","t":3.5,"y":-0.02,"e":0.01},{"k":"c","c":"18a1","t":4,"y":-0.03,"e":0.01},{"k":"c","c":"18a1","t":4.5,"y":-0.035,"e":0.01},{"k":"c","c":"18a1","t":5,"y":-0.03,"e":0.01},{"k":"c","c":"18a1","t":5.5,"y":-0.02,"e":0.01},{"k":"c","c":"18a1","t":6,"y":-0.01,"e":0.01},
{"k":"f","c":"1b1","lo":-0.195,"hi":0.19,"name":"RRI"},{"k":"f","c":"7b1","lo":-0.148,"hi":0.148,"name":"RRI"},{"k":"f","c":"11a1","lo":-0.1,"hi":0.14,"name":"RRI"},{"k":"f","c":"17a1","lo":-0.1,"hi":0.14,"name":"RRI"},{"k":"f","c":"18a1","lo":-0.1,"hi":0.14,"name":"RRI"},
{"k":"p","c":"1b1","tp":3.5,"yp":0.04,"lab":"3.5 s","lx":3.37,"ly":-0.06}
]
},
"spacing":0,
"vconcat":[
{
"data":{"name":"a"},
"facet":{
"column":{"field":"c","type":"nominal","sort":["1b1","7b1","11a1","17a1","18a1"],"header":{"title":null,"labelFontSize":18,"labelFontWeight":"bold","labelPadding":20,"labelColor":"black"}},
"row":{"field":"r","type":"ordinal","header":{"labels":false,"title":null}}
},
"spacing":{"row":6,"column":40},
"bounds":"flush",
"resolve":{"scale":{"y":"independent"}},
"spec":{
"width":114,"height":80,
"resolve":{"scale":{"y":"independent"}},
"layer":[
{"layer":[
{"transform":[{"filter":"datum.k=='c'"}],"mark":{"type":"errorband","color":"#a9a9a9","opacity":1,"interpolate":"monotone"},
"encoding":{"x":{"field":"t","type":"quantitative","scale":{"domain":[-6,6],"nice":false,"zero":false},"title":null,"axis":{"values":[-6,-3,0,3,6],"tickCount":10,"labels":false,"ticks":false,"title":null,"grid":true}},
"y":{"field":"y","type":"quantitative","scale":{"nice":false,"zero":false},"title":"a.u.","axis":{"values":[0],"tickCount":10,"title":"a.u.","tickSize":3,"labelFontSize":12,"titleFontSize":12,"labelPadding":2,"titlePadding":2,"grid":true}},
"yError":{"field":"e"}}},
{"transform":[{"filter":"datum.k=='c'"}],"mark":{"type":"line","color":"#000","strokeWidth":1.3,"interpolate":"monotone"},
"encoding":{"x":{"field":"t","type":"quantitative","scale":{"domain":[-6,6],"nice":false,"zero":false},"title":null,"axis":{"values":[-6,-3,0,3,6],"tickCount":10,"labels":false,"ticks":false,"title":null,"grid":true}},
"y":{"field":"y","type":"quantitative","scale":{"nice":false,"zero":false},"title":"a.u.","axis":{"values":[0],"tickCount":10,"title":"a.u.","tickSize":3,"labelFontSize":12,"titleFontSize":12,"labelPadding":2,"titlePadding":2,"grid":true}}}},
{"transform":[{"filter":"datum.k=='f'"}],"mark":{"type":"rule","color":"#2a2a2a","strokeWidth":1.1},
"encoding":{"x":{"datum":0,"type":"quantitative","scale":{"domain":[-6,6],"nice":false,"zero":false},"title":null},
"y":{"field":"lo","type":"quantitative","scale":{"nice":false,"zero":false},"title":"a.u."},"y2":{"field":"hi"}}},
{"transform":[{"filter":"datum.k=='f'"}],"mark":{"type":"text","align":"left","baseline":"bottom","dx":3,"dy":0,"fontWeight":"bold","fontSize":12,"color":"#000"},
"encoding":{"x":{"datum":-6,"type":"quantitative","scale":{"domain":[-6,6],"nice":false,"zero":false},"title":null},
"y":{"field":"lo","type":"quantitative","scale":{"nice":false,"zero":false},"title":"a.u."},"text":{"field":"name"}}},
{"transform":[{"filter":"datum.k=='p'"}],"mark":{"type":"rule","color":"#e31a1c","strokeWidth":1.5},
"encoding":{"x":{"field":"tp","type":"quantitative","scale":{"domain":[-6,6],"nice":false,"zero":false},"title":null},
"y":{"field":"yp","type":"quantitative","scale":{"nice":false,"zero":false},"title":"a.u."},"y2":{"datum":0}}},
{"transform":[{"filter":"datum.k=='p'"}],"mark":{"type":"point","shape":"triangle-up","filled":true,"color":"#e31a1c","opacity":1,"size":24,"yOffset":2.5},
"encoding":{"x":{"field":"tp","type":"quantitative","scale":{"domain":[-6,6],"nice":false,"zero":false},"title":null},
"y":{"field":"yp","type":"quantitative","scale":{"nice":false,"zero":false},"title":"a.u."}}},
{"transform":[{"filter":"datum.k=='p'"}],"mark":{"type":"text","fontWeight":"bold","fontSize":11.5,"color":"#000"},
"encoding":{"x":{"field":"lx","type":"quantitative","scale":{"domain":[-6,6],"nice":false,"zero":false},"title":null},
"y":{"field":"ly","type":"quantitative","scale":{"nice":false,"zero":false},"title":"a.u."},"text":{"field":"lab"}}}
]},
{"transform":[{"filter":"datum.k=='n'"}],
"layer":[
{"mark":{"type":"line","color":"#f08080","opacity":0.35,"strokeWidth":9,"strokeCap":"butt"},
"encoding":{"x":{"field":"t","type":"quantitative","scale":{"domain":[-6,6],"nice":false,"zero":false},"title":null},
"y":{"field":"f","type":"quantitative","scale":{"domain":[0,1],"nice":false,"zero":false},"axis":null}}},
{"mark":{"type":"line","color":"#000","strokeWidth":3,"strokeDash":[2.5,2.5],"strokeCap":"butt"},
"encoding":{"x":{"field":"t","type":"quantitative","scale":{"domain":[-6,6],"nice":false,"zero":false},"title":null},
"y":{"field":"f","type":"quantitative","scale":{"domain":[0,1],"nice":false,"zero":false},"axis":null}}}
]}
]
}
},
{
"data":{"name":"b"},
"facet":{
"column":{"field":"c","type":"nominal","sort":["1b1","7b1","11a1","17a1","18a1"],"header":{"labels":false,"title":null}}
},
"spacing":40,
"bounds":"flush",
"resolve":{"scale":{"y":"independent"}},
"spec":{
"width":114,"height":80,
"layer":[
{"transform":[{"filter":"datum.k=='c'"}],"mark":{"type":"errorband","color":"#a9a9a9","opacity":1,"interpolate":"monotone"},
"encoding":{"x":{"field":"t","type":"quantitative","scale":{"domain":[-6,6],"nice":false,"zero":false},"title":"time in s","axis":{"values":[-6,-3,0,3,6],"tickCount":10,"title":"time in s","tickSize":4,"labelFontSize":13,"titleFontSize":12.5,"labelPadding":1,"titlePadding":1,"grid":true}},
"y":{"field":"y","type":"quantitative","scale":{"nice":false,"zero":false},"title":"S","axis":{"values":[-0.1,0,0.1],"tickCount":10,"format":".1f","title":"S","titleAngle":0,"titleAlign":"center","titleBaseline":"middle","titleX":-14,"titleY":-1,"tickSize":3,"labelFontSize":12.5,"titleFontSize":12.5,"labelPadding":2,"grid":true}},
"yError":{"field":"e"}}},
{"transform":[{"filter":"datum.k=='c'"}],"mark":{"type":"line","color":"#000","strokeWidth":1.3,"interpolate":"monotone"},
"encoding":{"x":{"field":"t","type":"quantitative","scale":{"domain":[-6,6],"nice":false,"zero":false},"title":"time in s","axis":{"values":[-6,-3,0,3,6],"tickCount":10,"title":"time in s","tickSize":4,"labelFontSize":13,"titleFontSize":12.5,"labelPadding":1,"titlePadding":1,"grid":true}},
"y":{"field":"y","type":"quantitative","scale":{"nice":false,"zero":false},"title":"S","axis":{"values":[-0.1,0,0.1],"tickCount":10,"format":".1f","title":"S","titleAngle":0,"titleAlign":"center","titleBaseline":"middle","titleX":-14,"titleY":-1,"tickSize":3,"labelFontSize":12.5,"titleFontSize":12.5,"labelPadding":2,"grid":true}}}},
{"transform":[{"filter":"datum.k=='f'"}],"mark":{"type":"rule","color":"#2a2a2a","strokeWidth":1.1},
"encoding":{"x":{"datum":0,"type":"quantitative","scale":{"domain":[-6,6],"nice":false,"zero":false},"title":"time in s"},
"y":{"field":"lo","type":"quantitative","scale":{"nice":false,"zero":false},"title":"S"},"y2":{"field":"hi"}}},
{"transform":[{"filter":"datum.k=='f'"}],"mark":{"type":"text","align":"left","baseline":"bottom","dx":3,"dy":0,"fontWeight":"bold","fontSize":12,"color":"#000"},
"encoding":{"x":{"datum":-6,"type":"quantitative","scale":{"domain":[-6,6],"nice":false,"zero":false},"title":"time in s"},
"y":{"field":"lo","type":"quantitative","scale":{"nice":false,"zero":false},"title":"S"},"text":{"field":"name"}}},
{"transform":[{"filter":"datum.k=='p'"}],"mark":{"type":"rule","color":"#e31a1c","strokeWidth":1.5},
"encoding":{"x":{"field":"tp","type":"quantitative","scale":{"domain":[-6,6],"nice":false,"zero":false},"title":"time in s"},
"y":{"field":"yp","type":"quantitative","scale":{"nice":false,"zero":false},"title":"S"},"y2":{"datum":0}}},
{"transform":[{"filter":"datum.k=='p'"}],"mark":{"type":"point","shape":"triangle-up","filled":true,"color":"#e31a1c","opacity":1,"size":24,"yOffset":2.5},
"encoding":{"x":{"field":"tp","type":"quantitative","scale":{"domain":[-6,6],"nice":false,"zero":false},"title":"time in s"},
"y":{"field":"yp","type":"quantitative","scale":{"nice":false,"zero":false},"title":"S"}}},
{"transform":[{"filter":"datum.k=='p'"}],"mark":{"type":"text","fontWeight":"bold","fontSize":11.5,"color":"#000"},
"encoding":{"x":{"field":"lx","type":"quantitative","scale":{"domain":[-6,6],"nice":false,"zero":false},"title":"time in s"},
"y":{"field":"ly","type":"quantitative","scale":{"nice":false,"zero":false},"title":"S"},"text":{"field":"lab"}}}
]
}
}
]
}
